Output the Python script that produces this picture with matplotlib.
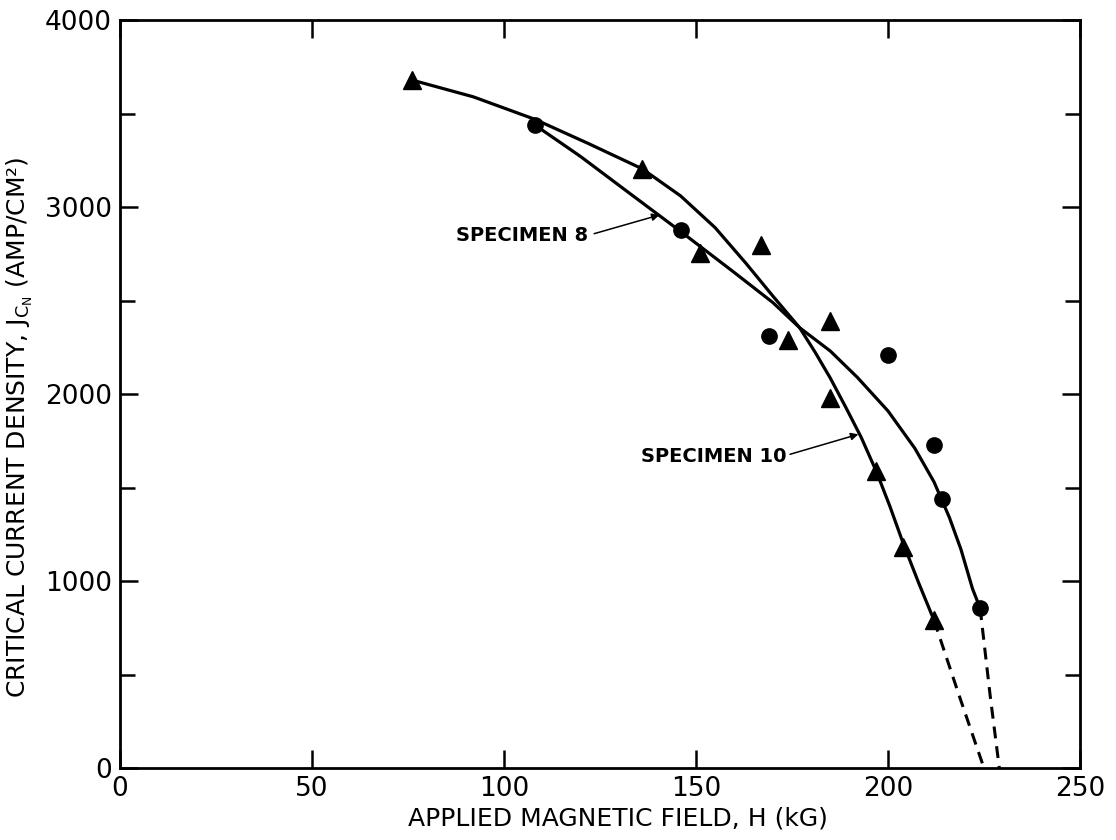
#!/usr/bin/env python
"""Critical current density vs applied magnetic field, specimens 8 and 10."""
import matplotlib
matplotlib.use("Agg")
import matplotlib.pyplot as plt
from matplotlib.ticker import MultipleLocator

spec10_h = [76, 136, 151, 167, 174, 185, 185, 197, 204, 212]
spec10_j = [3680, 3205, 2755, 2800, 2290, 2390, 1980, 1590, 1180, 790]
spec8_h = [108, 146, 169, 200, 212, 214, 224]
spec8_j = [3440, 2880, 2310, 2210, 1730, 1440, 855]

# Hand-drawn fitted curves
fit10_h = [76, 92, 108, 122, 136, 146, 155, 163, 170, 177, 181, 185, 189, 193, 197, 200.5, 204, 208, 212]
fit10_j = [3680, 3590, 3470, 3340, 3205, 3060, 2890, 2700, 2525, 2355, 2225, 2085, 1930, 1770, 1585, 1400, 1200, 990, 790]
fit8_h = [108, 120, 132, 146, 160, 170, 177, 185, 192, 200, 207, 212, 216, 219, 222, 224]
fit8_j = [3440, 3270, 3085, 2870, 2650, 2490, 2355, 2230, 2090, 1910, 1710, 1530, 1340, 1170, 960, 855]

# Dashed extrapolations to zero current
ext10_h = [212, 218.5, 225]
ext10_j = [790, 390, 0]
ext8_h = [224, 226.6, 229]
ext8_j = [855, 390, 0]

# Labels with their pointer arrows: (text x, text y), (tail), (tip)
label8 = ("SPECIMEN 8", (122, 2850), (123.5, 2858), (140.5, 2958))
label10 = ("SPECIMEN 10", (173.6, 1668), (174.5, 1678), (192.3, 1785))

xticks = [0, 50, 100, 150, 200, 250]
yticks = [0, 1000, 2000, 3000, 4000]

fig = plt.figure(figsize=(11.16, 8.4), dpi=100)
ax = fig.add_axes([0.1075, 0.0857, 0.8602, 0.8903])

ax.plot(fit10_h, fit10_j, color="black", lw=2.3, solid_capstyle="round")
ax.plot(fit8_h, fit8_j, color="black", lw=2.3, solid_capstyle="round")
ax.plot(ext10_h, ext10_j, color="black", lw=2.2, linestyle=(0, (3.9, 2.6)))
ax.plot(ext8_h, ext8_j, color="black", lw=2.2, linestyle=(0, (3.9, 2.6)))
ax.plot(spec10_h, spec10_j, linestyle="none", marker="^", ms=13, color="black")
ax.plot(spec8_h, spec8_j, linestyle="none", marker="o", ms=11, color="black")

for text, pos, tail, tip in (label8, label10):
    ax.text(pos[0], pos[1], text, ha="right", va="center",
            fontsize=14, fontweight="bold")
    ax.annotate("", xy=tip, xytext=tail,
                arrowprops=dict(arrowstyle="-|>", lw=1.1, color="black",
                                mutation_scale=11, shrinkA=0, shrinkB=0))

ax.set_xlim(0, 250)
ax.set_ylim(0, 4000)
ax.set_xticks(xticks)
ax.set_yticks(yticks)
ax.yaxis.set_minor_locator(MultipleLocator(500))
ax.tick_params(which="both", direction="in", top=True, right=True,
               width=1.8, labelsize=19, pad=6)
ax.tick_params(which="major", length=13)
ax.tick_params(which="minor", length=11)
for sp in ax.spines.values():
    sp.set_linewidth(2.0)

ax.set_xlabel("APPLIED MAGNETIC FIELD, H (kG)", fontsize=18)
ax.xaxis.set_label_coords(0.519, -0.052)
ax.set_ylabel(r"CRITICAL CURRENT DENSITY, $\mathregular{J_{C_N}}$ (AMP/CM²)",
              fontsize=18)
ax.yaxis.set_label_coords(-0.088, 0.455)

fig.savefig("out.png", dpi=100)
plt.close(fig)
